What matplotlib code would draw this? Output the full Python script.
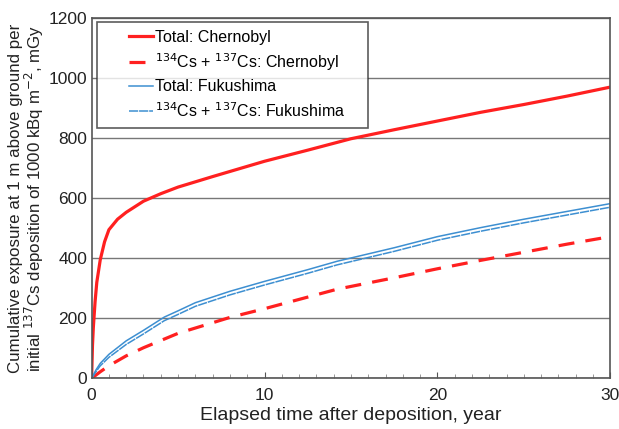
import matplotlib
matplotlib.use('Agg')
import matplotlib.pyplot as plt
from matplotlib.ticker import MultipleLocator
from matplotlib.legend_handler import HandlerLine2D

plt.rcParams['font.family'] = ['Liberation Sans', 'DejaVu Sans']

# years after deposition
t_cher = [0, 0.05, 0.1, 0.2, 0.3, 0.5, 0.75, 1, 1.5, 2, 3, 4, 5, 7, 10, 12.5, 15, 17.5, 20, 22.5, 25, 27.5, 30]
total_cher = [0, 110, 170, 255, 320, 395, 455, 495, 530, 553, 590, 615, 637, 672, 723, 760, 798, 828, 857, 886, 912, 940, 970]

t_cs = [0, 0.5, 1, 2, 3, 5, 8, 10, 14.2, 17.5, 20, 22.5, 25, 27.5, 30]
cs_cher = [0, 22, 42, 75, 102, 150, 203, 232, 297, 335, 365, 393, 420, 447, 472]

t_fuku = [0, 0.25, 0.5, 1, 2, 3, 4.2, 5, 6, 8, 10, 12.5, 14.2, 17.5, 20, 22.5, 25, 27.5, 30]
total_fuku = [0, 28, 50, 80, 125, 160, 204, 225, 252, 290, 323, 362, 390, 435, 472, 502, 530, 556, 582]
cs_fuku = [0, 22, 42, 70, 113, 148, 192, 213, 240, 278, 311, 350, 378, 423, 460, 490, 518, 544, 570]


class ShortHandle(HandlerLine2D):
    # draw the legend line only in the right half of the handle box
    def get_xdata(self, legend, xdescent, ydescent, width, height, fontsize):
        x, _ = super().get_xdata(legend, xdescent, ydescent, width, height, fontsize)
        return [x[0] + 0.5 * (x[-1] - x[0]), x[-1]], [x[0], x[-1]]


fig, ax = plt.subplots(figsize=(6.19, 4.29), dpi=100)
fig.subplots_adjust(left=0.148, right=0.986, top=0.958, bottom=0.118)

ax.plot(t_cher, total_cher, color='#ff2020', lw=2.3, label='Total: Chernobyl')
ax.plot(t_cs, cs_cher, color='#ff2020', lw=2.3, ls=(0, (5, 3.5)),
        label='$^{134}$Cs + $^{137}$Cs: Chernobyl')
ax.plot(t_fuku, total_fuku, color='#3d8fd1', lw=1.1, label='Total: Fukushima')
ax.plot(t_fuku, cs_fuku, color='#3d8fd1', lw=1.1, ls=(0, (6, 0.6)),
        label='$^{134}$Cs + $^{137}$Cs: Fukushima')

ax.set_xlim(0, 30)
ax.set_ylim(0, 1200)
ax.xaxis.set_major_locator(MultipleLocator(10))
ax.xaxis.set_minor_locator(MultipleLocator(1))
ax.yaxis.set_major_locator(MultipleLocator(200))
ax.tick_params(axis='both', which='major', direction='in', labelsize=12.5, colors='#555555',
               labelcolor='#222222', length=4)
ax.tick_params(axis='x', which='major', pad=7)
ax.tick_params(axis='x', which='minor', direction='in', length=3, colors='#888888')
ax.tick_params(axis='y', which='major', length=0, pad=3)
ax.grid(axis='y', color='#777777', lw=1)
for s in ax.spines.values():
    s.set_color('#555555')
    s.set_linewidth(1.2)

ax.set_xlabel('Elapsed time after deposition, year', fontsize=14, color='#222222', labelpad=3)
ax.set_ylabel('Cumulative exposure at 1 m above ground per\n'
              'initial $^{137}$Cs deposition of 1000 kBq m$^{-2}$, mGy',
              fontsize=12.2, color='#222222', labelpad=2, linespacing=1.0)

leg = ax.legend(loc='upper left', bbox_to_anchor=(0.0097, 0.989, 0.523, 0.0), mode='expand',
                fontsize=11.5, frameon=True, fancybox=False,
                edgecolor='#333333', handlelength=3.0, borderaxespad=0.0,
                borderpad=0.5, labelspacing=0.4, handletextpad=0.15,
                handler_map={plt.Line2D: ShortHandle()})
leg.get_frame().set_linewidth(1.2)

plt.savefig('out.png', dpi=100)
